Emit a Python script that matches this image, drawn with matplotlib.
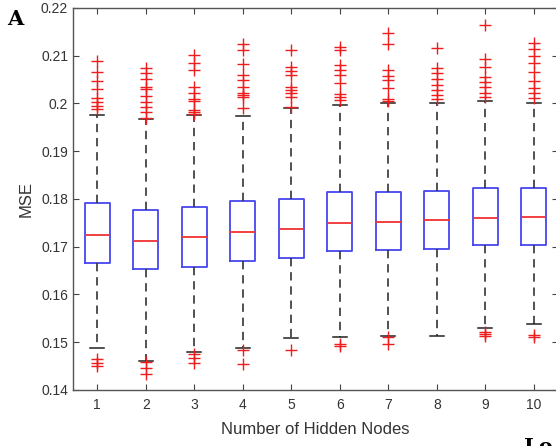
import matplotlib
matplotlib.use('Agg')
import matplotlib.pyplot as plt

#========================================================================
# dados (MSE vs numero de nos ocultos)
#========================================================================
nodes = [1, 2, 3, 4, 5, 6, 7, 8, 9, 10]
q1 = [0.1665, 0.1653, 0.1658, 0.1671, 0.1676, 0.1692, 0.1693, 0.1695, 0.1703, 0.1703]
med = [0.1725, 0.1712, 0.1720, 0.1731, 0.1737, 0.1749, 0.1752, 0.1755, 0.1761, 0.1762]
q3 = [0.1791, 0.1776, 0.1784, 0.1796, 0.1801, 0.1814, 0.1814, 0.1817, 0.1824, 0.1822]
whis_lo = [0.1487, 0.1461, 0.1480, 0.1489, 0.1508, 0.1510, 0.1513, 0.1513, 0.1530, 0.1538]
whis_hi = [0.1976, 0.1967, 0.1976, 0.1974, 0.1991, 0.1997, 0.2000, 0.2002, 0.2005, 0.2002]

out_hi = [
    [0.2089, 0.2067, 0.2048, 0.2030, 0.2011, 0.2004, 0.1995, 0.1988],
    [0.2074, 0.2063, 0.2051, 0.2034, 0.2030, 0.2016, 0.2004, 0.1993, 0.1983, 0.1969],
    [0.2102, 0.2084, 0.2070, 0.2034, 0.2021, 0.2009, 0.2005, 0.1986, 0.1983, 0.1979],
    [0.2124, 0.2113, 0.2082, 0.2060, 0.2049, 0.2035, 0.2023, 0.2018, 0.2013, 0.1990],
    [0.2113, 0.2077, 0.2069, 0.2060, 0.2034, 0.2028, 0.2023, 0.2014, 0.1993],
    [0.2119, 0.2111, 0.2081, 0.2070, 0.2060, 0.2042, 0.2019, 0.2013, 0.2007],
    [0.2147, 0.2125, 0.2070, 0.2058, 0.2049, 0.2032, 0.2009, 0.2005],
    [0.2116, 0.2075, 0.2063, 0.2051, 0.2039, 0.2028, 0.2018, 0.2009],
    [0.2164, 0.2093, 0.2077, 0.2055, 0.2046, 0.2034, 0.2023, 0.2014],
    [0.2126, 0.2114, 0.2100, 0.2084, 0.2067, 0.2048, 0.2032, 0.2021, 0.2011],
]
out_lo = [
    [0.1464, 0.1457, 0.1450],
    [0.1459, 0.1446, 0.1434],
    [0.1476, 0.1466, 0.1456],
    [0.1484, 0.1455],
    [0.1484],
    [0.1496, 0.1492],
    [0.1510, 0.1496],
    [],
    [0.1522, 0.1517, 0.1513],
    [0.1515, 0.1510],
]

yticks = [0.14, 0.15, 0.16, 0.17, 0.18, 0.19, 0.2, 0.21, 0.22]
ytick_labels = ['0.14', '0.15', '0.16', '0.17', '0.18', '0.19', '0.2', '0.21', '0.22']

#========================================================================
# grafico
#========================================================================
plt.rcParams['font.family'] = ['Liberation Sans', 'DejaVu Sans']

fig = plt.figure(figsize=(5.56, 4.46), dpi=100)
# o eixo passa um pouco da borda direita, como na figura original
ax = fig.add_axes([73/556, 1 - 390/446, 485/556, 382/446])

stats = []
for i in range(len(nodes)):
    stats.append({'med': med[i], 'q1': q1[i], 'q3': q3[i],
                  'whislo': whis_lo[i], 'whishi': whis_hi[i],
                  'fliers': out_hi[i] + out_lo[i], 'label': str(nodes[i])})

ax.bxp(stats, positions=nodes, widths=0.52, capwidths=0.29,
       boxprops=dict(color='#4646f0', linewidth=1.3),
       medianprops=dict(color='#f03030', linewidth=1.3),
       whiskerprops=dict(color='#333333', linewidth=1.2, linestyle=(0, (5, 3.5))),
       capprops=dict(color='#222222', linewidth=1.1),
       flierprops=dict(marker='+', markeredgecolor='#ee1c1c', markersize=8, markeredgewidth=1.0))

ax.set_xlim(0.5, 10.5)
ax.set_ylim(0.14, 0.22)
ax.set_yticks(yticks)
ax.set_yticklabels(ytick_labels)
ax.set_xticks(nodes)
ax.set_xticklabels([str(n) for n in nodes])
ax.tick_params(direction='in', top=True, right=True, length=4, width=0.8,
               colors='#444444', labelsize=10, labelcolor='#333333')
ax.tick_params(axis='x', pad=6)
for s in ax.spines.values():
    s.set_color('#555555')
    s.set_linewidth(1.0)

ax.set_xlabel('Number of Hidden Nodes', fontsize=12, color='#333333', labelpad=7)
ax.set_ylabel('MSE', fontsize=12, color='#333333', labelpad=5)

fig.text(7/556, 1 - 19/446, 'A', family='DejaVu Serif', fontweight='bold', fontsize=15,
         va='center', ha='left')
fig.text(524/556, 1 - 437/446, 'Lo', family='DejaVu Serif', fontweight='bold', fontsize=15,
         va='top', ha='left')

plt.savefig('out.png', dpi=100)
